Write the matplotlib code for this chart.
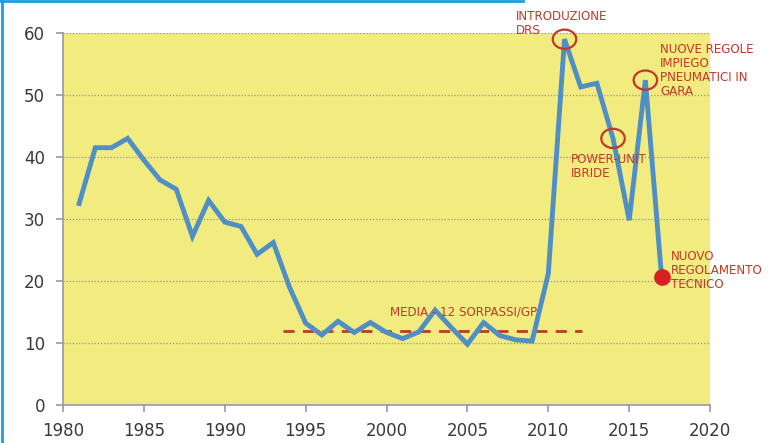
import matplotlib.pyplot as plt
from matplotlib.patches import Ellipse
from matplotlib.lines import Line2D

years = list(range(1981, 2018))
sorpassi = [32.5, 41.5, 41.5, 43.0, 39.5, 36.3, 34.8, 27.2, 33.0, 29.5,
            28.8, 24.3, 26.2, 19.0, 13.2, 11.3, 13.5, 11.7, 13.3, 11.7,
            10.7, 11.8, 15.3, 12.5, 9.8, 13.3, 11.2, 10.5, 10.3, 21.2,
            59.0, 51.3, 51.9, 43.0, 29.8, 52.4, 20.7]
media = 12
media_range = [1993.6, 2012.1]
circled_years = [2011, 2014, 2016]

BLUE = "#4F8FC6"
RED = "#C0392B"

fig = plt.figure(figsize=(7.71, 4.43), dpi=100)
ax = fig.add_axes([0.0817, 0.0858, 0.8393, 0.8397])
ax.set_facecolor("#F1EB80")

ax.set_xlim(1980, 2020)
ax.set_ylim(0, 60)
ax.set_xticks(range(1980, 2021, 5))
ax.set_yticks(range(0, 61, 10))
for y in range(10, 61, 10):
    ax.axhline(y, color="#9a9a80", linestyle=(0, (1, 1.5)), linewidth=0.9, zorder=1)

for s in ["top", "right"]:
    ax.spines[s].set_visible(False)
for s in ["left", "bottom"]:
    ax.spines[s].set_color("#9a9a9a")
    ax.spines[s].set_linewidth(1.2)
ax.tick_params(axis="both", colors="#9a9a9a", labelcolor="#3a3a3a", labelsize=12, length=5, width=1.2)
ax.tick_params(axis="y", pad=8)
ax.tick_params(axis="x", pad=7)

ax.plot(media_range, [media, media], color=RED, linestyle=(0, (4, 3)), linewidth=2, zorder=2)
ax.plot(years, sorpassi, color=BLUE, linewidth=3.5, solid_joinstyle="miter", zorder=3)
ax.plot(years[-1], sorpassi[-1], "o", color="#D42222", markersize=11, zorder=4, clip_on=False)

for yr in circled_years:
    val = sorpassi[years.index(yr)]
    ax.add_patch(Ellipse((yr, val), 1.45, 3.1, fill=False, edgecolor=RED, linewidth=1.6, zorder=5, clip_on=False))

tk = dict(color=RED, fontsize=8.6, linespacing=1.1, va="top", ha="left", clip_on=False, zorder=6)
ax.text(2000.2, 16.0, "MEDIA - 12 SORPASSI/GP", **tk)
ax.text(2008.0, 63.7, "INTRODUZIONE\nDRS", **tk)
ax.text(2016.9, 58.4, "NUOVE REGOLE\nIMPIEGO\nPNEUMATICI IN\nGARA", **tk)
ax.text(2011.4, 40.6, "POWER-UNIT\nIBRIDE", **tk)
ax.text(2017.6, 25.0, "NUOVO\nREGOLAMENTO\nTECNICO", **tk)

# screenshot frame
fig.add_artist(Line2D([0.002, 0.002], [0, 1], transform=fig.transFigure, color="#1a9ee0", linewidth=2))
fig.add_artist(Line2D([0, 0.678], [0.998, 0.998], transform=fig.transFigure, color="#1a9ee0", linewidth=2))

fig.savefig("out.png", dpi=100)
